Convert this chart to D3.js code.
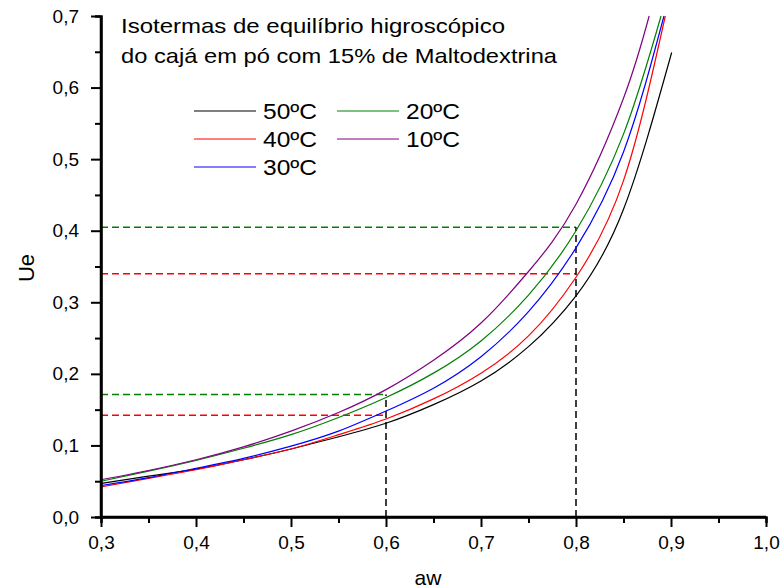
<!DOCTYPE html>
<html>
<head>
<meta charset="utf-8">
<script src="https://cdn.jsdelivr.net/npm/d3@7"></script>
<style>
    body { margin: 0; background: #fff; }
    text { font-family: Arial, "Liberation Sans", sans-serif; fill: #000; }
</style>
</head>
<body>
<div id="chart"></div>
<script>
// water activity values where the curves were read
var aw = [0.30, 0.35, 0.40, 0.45, 0.50, 0.55, 0.60, 0.65, 0.70, 0.75, 0.80, 0.85];

// equilibrium moisture (last pair is where each curve stops)
var ue50 = [0.047, 0.057, 0.067, 0.080, 0.095, 0.112, 0.131, 0.157, 0.190, 0.238, 0.309, 0.430];
var ue40 = [0.042, 0.054, 0.066, 0.080, 0.095, 0.115, 0.137, 0.165, 0.201, 0.253, 0.335, 0.470];
var ue30 = [0.044, 0.055, 0.068, 0.082, 0.099, 0.120, 0.148, 0.180, 0.224, 0.287, 0.376, 0.510];
var ue20 = [0.050, 0.064, 0.079, 0.096, 0.115, 0.139, 0.167, 0.201, 0.246, 0.310, 0.400, 0.535];
var ue10 = [0.052, 0.065, 0.080, 0.098, 0.120, 0.146, 0.178, 0.219, 0.271, 0.343, 0.437, 0.585];

var endAw = [0.9007, 0.894, 0.8926, 0.8895, 0.877];
var endUe = [0.649, 0.700, 0.700, 0.700, 0.700];

var labels = ["50ºC", "40ºC", "30ºC", "20ºC", "10ºC"];
var colors = ["#000000", "#ff0000", "#0000ff", "#008000", "#800080"];

// reference lines at aw 0.6 and 0.8
var refAw = [0.6, 0.8];
var refGreen = [0.171, 0.405];
var refRed = [0.142, 0.340];

var xTicks = [0.3, 0.4, 0.5, 0.6, 0.7, 0.8, 0.9, 1.0];
var yTicks = [0.0, 0.1, 0.2, 0.3, 0.4, 0.5, 0.6, 0.7];

function chart() {
    var width = 784;
    var height = 588;

    var svg = d3.select("#chart")
                .append("svg")
                .attr("width", width)
                .attr("height", height);

    var xScale = d3.scaleLinear()
                    .domain([0.3, 1.0])
                    .range([101, 766]);

    var yScale = d3.scaleLinear()
                    .domain([0, 0.7])
                    .range([517, 16]);

    var fmt = function(d) { return d3.format(".1f")(d).replace(".", ","); };

    // build one array of points per series
    var series = [ue50, ue40, ue30, ue20, ue10].map(function(vals, k) {
        var pts = vals.map(function(v, i) { return [aw[i], v]; });
        pts.push([endAw[k], endUe[k]]);
        return pts;
    });

    var line = d3.line()
                .x(function(d) { return xScale(d[0]); })
                .y(function(d) { return yScale(d[1]); })
                .curve(d3.curveNatural);

    // dashed guides
    var dash = svg.append("g")
                .attr("stroke-width", 1.5)
                .attr("stroke-dasharray", "7,4")
                .attr("fill", "none");

    refAw.forEach(function(a, i) {
        dash.append("line")
            .attr("x1", xScale(0.3)).attr("x2", xScale(a))
            .attr("y1", yScale(refGreen[i])).attr("y2", yScale(refGreen[i]))
            .attr("stroke", "#008000");
        dash.append("line")
            .attr("x1", xScale(0.3)).attr("x2", xScale(a))
            .attr("y1", yScale(refRed[i])).attr("y2", yScale(refRed[i]))
            .attr("stroke", "#ff0000");
        dash.append("line")
            .attr("x1", xScale(a)).attr("x2", xScale(a))
            .attr("y1", yScale(0)).attr("y2", yScale(refGreen[i]))
            .attr("stroke", "#000");
    });

    svg.append("g")
        .selectAll("path")
        .data(series)
        .enter()
        .append("path")
        .attr("d", line)
        .attr("fill", "none")
        .attr("stroke-width", 1.2)
        .attr("stroke", function(d, i) { return colors[i]; });

    // axes with minor ticks
    var xAxis = d3.axisBottom(xScale)
                .tickValues(xTicks)
                .tickFormat(fmt)
                .tickSize(10)
                .tickPadding(9);

    var xMinor = d3.axisBottom(xScale)
                .tickValues(d3.range(0.35, 1.0, 0.1))
                .tickFormat("")
                .tickSize(6);

    var yAxis = d3.axisLeft(yScale)
                .tickValues(yTicks)
                .tickFormat(fmt)
                .tickSize(10)
                .tickPadding(12);

    var yMinor = d3.axisLeft(yScale)
                .tickValues(d3.range(0.05, 0.7, 0.1))
                .tickFormat("")
                .tickSize(6);

    var gx = svg.append("g")
        .attr("transform", "translate(0," + yScale(0) + ")")
        .call(xAxis);
    svg.append("g")
        .attr("transform", "translate(0," + yScale(0) + ")")
        .call(xMinor);

    var gy = svg.append("g")
        .attr("transform", "translate(" + xScale(0.3) + ",0)")
        .call(yAxis);
    svg.append("g")
        .attr("transform", "translate(" + xScale(0.3) + ",0)")
        .call(yMinor);

    svg.selectAll(".domain").attr("stroke-width", 2.5).attr("stroke", "#000");
    svg.selectAll(".tick line").attr("stroke-width", 2).attr("stroke", "#000");
    svg.selectAll(".tick text")
        .style("font-size", "19px")
        .style("font-family", "Arial, 'Liberation Sans', sans-serif");
    // plain axis lines without end caps
    gx.select(".domain").attr("d", "M" + xScale(0.3) + ",0H" + xScale(1.0));
    gy.select(".domain").attr("d", "M0," + yScale(0) + "V" + yScale(0.7));

    // axis titles
    svg.append("text")
        .attr("x", 428)
        .attr("y", 585)
        .attr("text-anchor", "middle")
        .attr("font-size", 21)
        .text("aw");

    svg.append("text")
        .attr("transform", "translate(34,268) rotate(-90)")
        .attr("text-anchor", "middle")
        .attr("font-size", 22)
        .text("Ue");

    // title inside the plot
    svg.append("text")
        .attr("x", 121)
        .attr("y", 33)
        .attr("font-size", 21)
        .attr("textLength", 384)
        .attr("lengthAdjust", "spacingAndGlyphs")
        .text("Isotermas de equilíbrio higroscópico");
    svg.append("text")
        .attr("x", 121)
        .attr("y", 63)
        .attr("font-size", 21)
        .attr("textLength", 436)
        .attr("lengthAdjust", "spacingAndGlyphs")
        .text("do cajá em pó com 15% de Maltodextrina");

    // legend: two columns
    var legendPos = [[194, 111], [194, 139], [194, 167], [337, 111], [337, 139]];
    var legend = svg.append("g");
    labels.forEach(function(lab, i) {
        var p = legendPos[i];
        legend.append("line")
            .attr("x1", p[0]).attr("x2", p[0] + 62)
            .attr("y1", p[1]).attr("y2", p[1])
            .attr("stroke", colors[i])
            .attr("stroke-width", 1.2);
        legend.append("text")
            .attr("x", p[0] + 69)
            .attr("y", p[1] + 8)
            .attr("font-size", 22)
            .attr("textLength", 54)
            .attr("lengthAdjust", "spacingAndGlyphs")
            .text(lab);
    });
}

window.onload = chart;
</script>
</body>
</html>
